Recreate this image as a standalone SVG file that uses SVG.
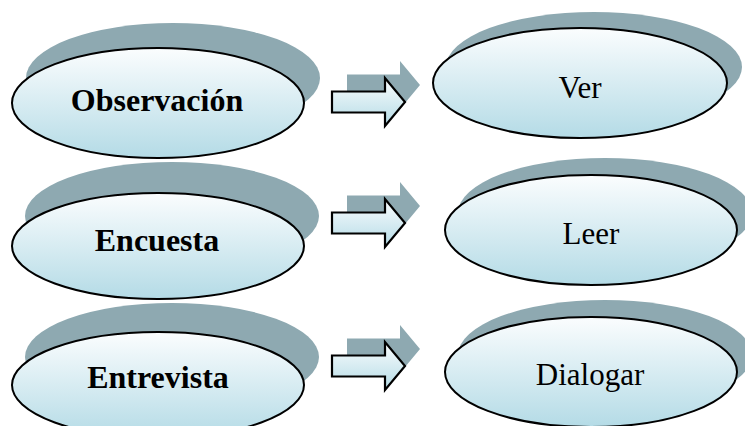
<svg xmlns="http://www.w3.org/2000/svg" width="745" height="426" viewBox="0 0 745 426">
  <defs>
    <linearGradient id="fillGrad" x1="0" y1="0" x2="0" y2="1">
      <stop offset="0" stop-color="#FBFDFE"/>
      <stop offset="1" stop-color="#B4DBE6"/>
    </linearGradient>
    <style>
      .shadow { fill: #8EA9B1; stroke: none; }
      .shape { fill: url(#fillGrad); stroke: #000; stroke-width: 2; }
      .arrow { fill: url(#fillGrad); stroke: #000; stroke-width: 2.2; stroke-linejoin: miter; }
      .lbl-b { font-family: "Liberation Serif", "Times New Roman", serif; font-weight: bold; font-size: 32px; fill: #000; text-anchor: middle; }
      .lbl { font-family: "Liberation Serif", "Times New Roman", serif; font-size: 31px; fill: #000; text-anchor: middle; }
    </style>
  </defs>
  <rect width="745" height="426" fill="#fff"/>

  <g id="node-observacion">
    <ellipse class="shadow" cx="173" cy="78" rx="147" ry="55"/>
    <ellipse class="shape" cx="158" cy="103" rx="146" ry="55"/>
    <text class="lbl-b" x="157" y="111">Observación</text>
  </g>
  <g id="node-encuesta">
    <ellipse class="shadow" cx="172" cy="216" rx="147" ry="54"/>
    <ellipse class="shape" cx="158" cy="246" rx="146" ry="53"/>
    <text class="lbl-b" x="157" y="251">Encuesta</text>
  </g>
  <g id="node-entrevista">
    <ellipse class="shadow" cx="172" cy="357" rx="147" ry="54"/>
    <ellipse class="shape" cx="158" cy="385" rx="146" ry="53"/>
    <text class="lbl-b" x="158" y="388">Entrevista</text>
  </g>

  <g id="node-ver">
    <ellipse class="shadow" cx="594" cy="67" rx="148" ry="55"/>
    <ellipse class="shape" cx="580" cy="83" rx="147" ry="55"/>
    <text class="lbl" x="580" y="98">Ver</text>
  </g>
  <g id="node-leer">
    <ellipse class="shadow" cx="605" cy="213" rx="147" ry="55"/>
    <ellipse class="shape" cx="591" cy="230" rx="146" ry="55"/>
    <text class="lbl" x="591" y="244">Leer</text>
  </g>
  <g id="node-dialogar">
    <ellipse class="shadow" cx="605" cy="355" rx="147" ry="55"/>
    <ellipse class="shape" cx="591" cy="372" rx="146" ry="55"/>
    <text class="lbl" x="590" y="385">Dialogar</text>
  </g>

  <g id="connectors">
    <g id="arrow-1">
      <path class="shadow" d="M347,74.5 H400 V61 L420,85 L400,109 V95.5 H347 Z"/>
      <path class="arrow" d="M332,91.5 H385 V78 L405,102 L385,126 V112.5 H332 Z"/>
    </g>
    <g id="arrow-2">
      <path class="shadow" d="M347,195.5 H400 V182 L420,206 L400,230 V216.5 H347 Z"/>
      <path class="arrow" d="M332,212.5 H385 V199 L405,223 L385,247 V233.5 H332 Z"/>
    </g>
    <g id="arrow-3">
      <path class="shadow" d="M347,338.5 H400 V325 L420,349 L400,373 V359.5 H347 Z"/>
      <path class="arrow" d="M332,355.5 H385 V342 L405,366 L385,390 V376.5 H332 Z"/>
    </g>
  </g>
</svg>
